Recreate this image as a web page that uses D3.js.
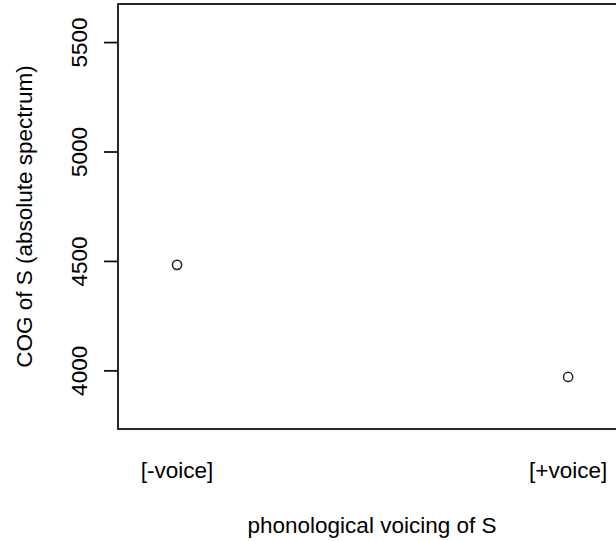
<!DOCTYPE html>
<html><head><meta charset="utf-8">
<script src="https://cdn.jsdelivr.net/npm/d3@7"></script>
<style>body{margin:0;background:#fff}svg{display:block}text{font-family:"Liberation Sans",Arial,sans-serif;fill:#000}</style>
</head><body><svg id="c" width="616" height="541"></svg>
<script>
const categories = ["[-voice]", "[+voice]"];
const cogValues = [4482, 3970];
const yTicks = [4000, 4500, 5000, 5500];
const xTitle = "phonological voicing of S";
const yTitle = "COG of S (absolute spectrum)";

const svg = d3.select("#c");
const L = 118, R = 626, T = 4, B = 429;
const x = d3.scaleLinear().domain([0.849, 2.148]).range([L, R]);
const y = d3.scaleLinear().domain([3732, 5674]).range([B, T]);
const fs = 22.5;

svg.append("rect").attr("x", L).attr("y", T).attr("width", R - L).attr("height", B - T)
  .attr("fill", "none").attr("stroke", "#111").attr("stroke-width", 1.8);

// y axis ticks
const yAxis = svg.append("g").attr("transform", `translate(${L},0)`)
  .call(d3.axisLeft(y).tickValues(yTicks).tickSize(14).tickFormat(d3.format("d")));
yAxis.select(".domain").remove();
yAxis.selectAll("line").attr("stroke", "#111").attr("stroke-width", 1.8);
yAxis.selectAll("text").remove();
yAxis.selectAll(".tick").append("text")
  .attr("transform", "translate(-31,0) rotate(-90)")
  .attr("text-anchor", "middle").attr("dy", 0)
  .style("font-size", fs + "px").style("font-family", '"Liberation Sans",Arial,sans-serif')
  .attr("fill", "#000").text(d => d);

// x category labels
svg.selectAll(".xl").data(categories).enter().append("text")
  .attr("x", (d, i) => x(i + 1)).attr("y", 478)
  .attr("text-anchor", "middle").style("font-size", fs + "px").text(d => d);

// points
svg.selectAll(".pt").data(cogValues).enter().append("circle")
  .attr("cx", (d, i) => x(i + 1)).attr("cy", d => y(d)).attr("r", 4.6)
  .attr("fill", "none").attr("stroke", "#222").attr("stroke-width", 1.5);

// titles
svg.append("text").attr("x", (L + R) / 2).attr("y", 533).attr("text-anchor", "middle")
  .style("font-size", fs + "px").text(xTitle);
svg.append("text").attr("transform", `translate(32,${(T + B) / 2}) rotate(-90)`)
  .attr("text-anchor", "middle").style("font-size", fs + "px").text(yTitle);
</script></body></html>
